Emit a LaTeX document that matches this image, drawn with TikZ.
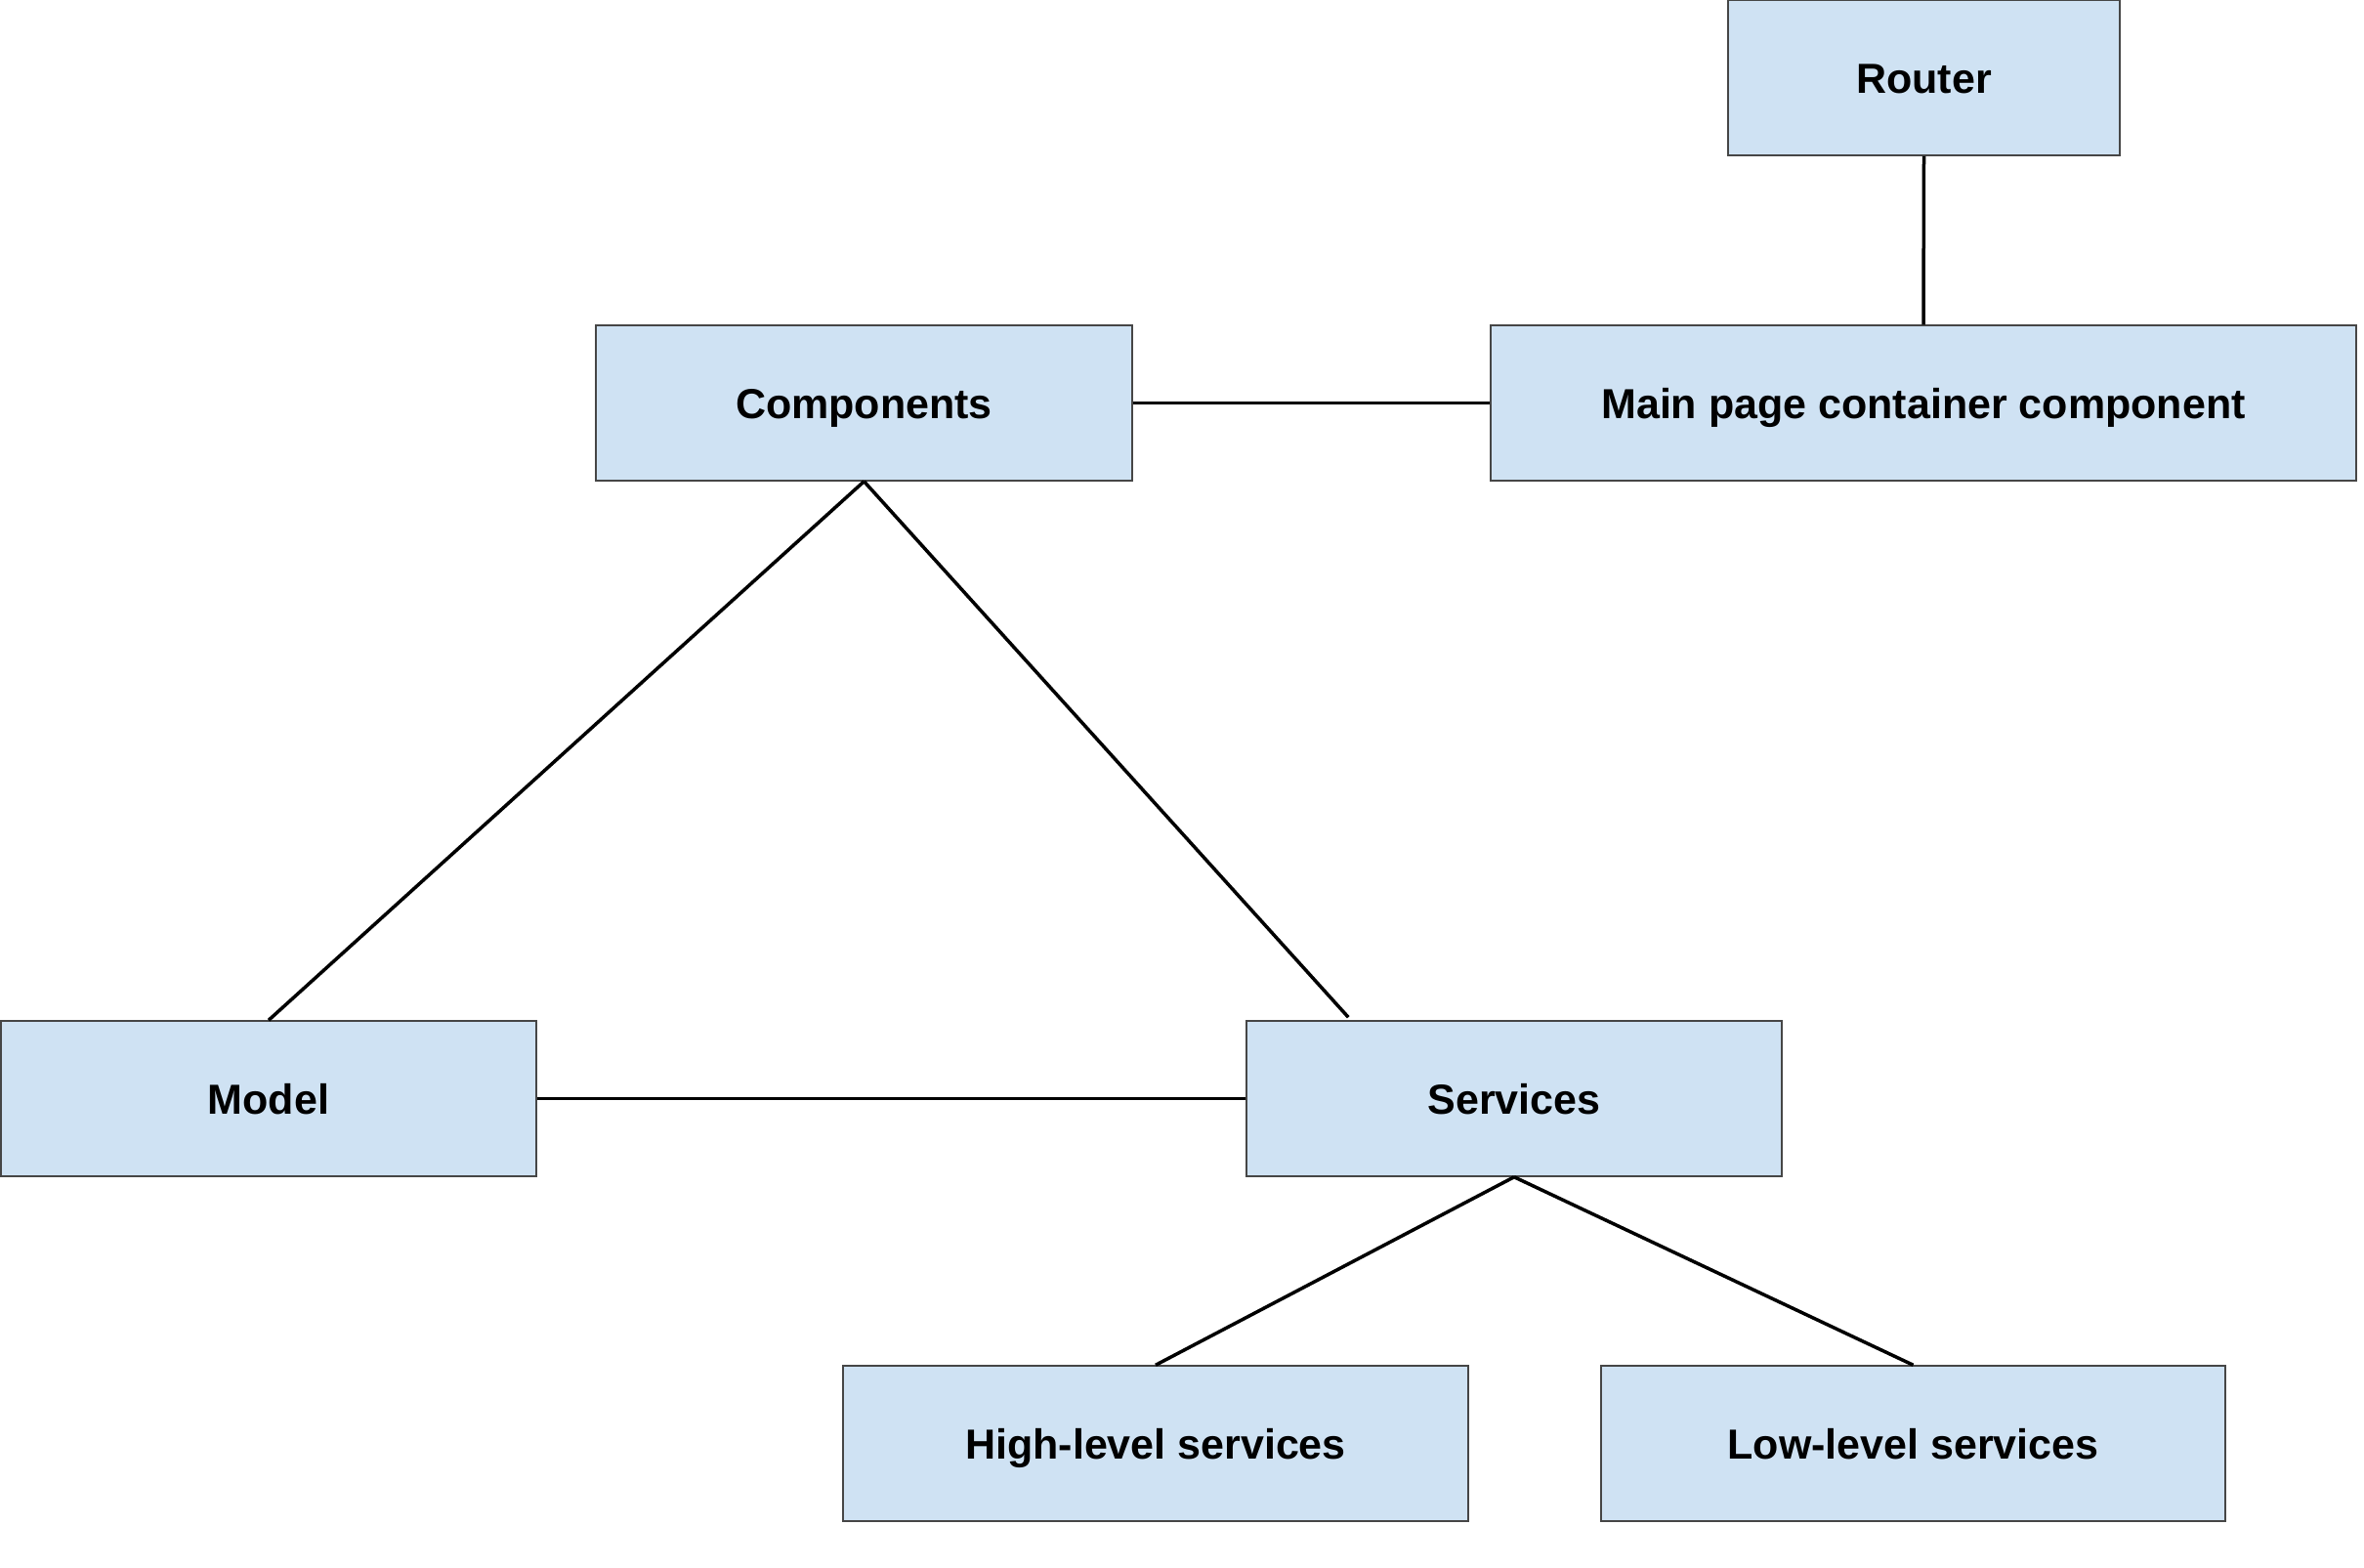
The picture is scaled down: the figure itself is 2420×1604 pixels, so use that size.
\documentclass[tikz,border=0pt]{standalone}
\usepackage{fontspec}
\setmainfont{Liberation Sans}
\usetikzlibrary{calc}
\definecolor{boxfill}{RGB}{207,226,243}
\definecolor{boxline}{RGB}{70,70,70}
\tikzset{
  box/.style={rectangle, draw=boxline, line width=1.5pt, fill=boxfill, inner sep=0pt,
    text height=31pt, text depth=0pt,
    font=\fontsize{43}{50}\selectfont\bfseries},
  conn/.style={line width=3.5pt, black}
}
\begin{document}
\begin{tikzpicture}[x=1pt,y=-1pt]
\useasboundingbox (0,0) rectangle (2420,1604);
\fill[white] (0,0) rectangle (2420,1604);
\node[box, minimum width=401pt, minimum height=159pt] (router) at (1969.5,79.5) {Router};
\node[box, minimum width=886pt, minimum height=159pt] (main) at (1969,412.5) {Main page container component};
\node[box, minimum width=549pt, minimum height=159pt] (comp) at (884.5,412.5) {Components};
\node[box, minimum width=548pt, minimum height=159pt] (model) at (275,1124.5) {Model};
\node[box, minimum width=548pt, minimum height=159pt] (svc) at (1550,1124.5) {Services};
\node[box, minimum width=640pt, minimum height=159pt] (high) at (1183,1477.5) {High-level services};
\node[box, minimum width=639pt, minimum height=159pt] (low) at (1958.5,1477.5) {Low-level services};
\coordinate (svctop) at ($(svc.north west)+(105,-3)$);
\draw[conn] (router.south) -- (main.north);
\draw[conn] (comp.east) -- (main.west);
\draw[conn] (comp.south) -- (model.north);
\draw[conn] (comp.south) -- (svctop);
\draw[conn] (model.east) -- (svc.west);
\draw[conn] (svc.south) -- (high.north);
\draw[conn] (svc.south) -- (low.north);
\end{tikzpicture}
\end{document}
